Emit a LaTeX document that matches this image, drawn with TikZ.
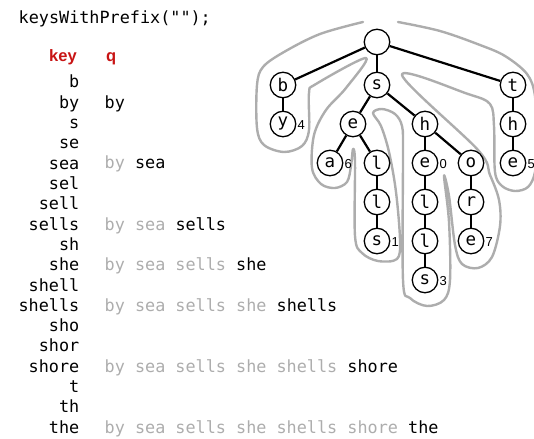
\documentclass[tikz,border=0pt]{standalone}
\usepackage{fontspec}
\setmonofont{DejaVu Sans Mono}
\setsansfont{Liberation Sans}
\definecolor{hdred}{RGB}{200,20,20}
\colorlet{faded}{black!32}

\tikzset{
  tnode/.style={circle,draw,fill=white,line width=1.3pt,minimum size=25.5pt,inner sep=0pt,
    font=\fontsize{17.5}{17.5}\selectfont\ttfamily},
  val/.style={label={[font=\fontsize{13}{13}\selectfont\sffamily,inner sep=1pt,yshift=-1.5pt]east:#1}},
  link/.style={line width=2.2pt},
  tour/.style={draw=faded,line width=2.4pt,line cap=round,line join=round},
  mono/.style={inner sep=0pt,font=\fontsize{16.8}{20}\selectfont\ttfamily},
  hd/.style={inner sep=0pt,anchor=base west,text=hdred,font=\fontsize{16.5}{20}\selectfont\sffamily\bfseries},
}

\begin{document}
\begin{tikzpicture}[x=1pt,y=-1pt]
\useasboundingbox (0,0) rectangle (534,438);

% call and table header
\node[mono,anchor=base west] (call) at (18.5,24) {keysWithPrefix("");};
\node[hd] (hkey) at (49,62) {key};
\node[hd] (hq) at (106,62) {q};

% keys visited, one per row
\foreach \k [count=\i] in {b,by,s,se,sea,sel,sell,sells,sh,she,shell,shells,sho,shor,shore,t,th,the}
  \node[mono,anchor=base east] (key\i) at (79.5,{88+(\i-1)*20.3}) {\k};

% queue contents after each key is added
\node[mono,anchor=base west] (q2) at (104.5,108.3) {by};
\node[mono,anchor=base west] (q5) at (104.5,168.9) {\textcolor{faded}{by} sea};
\node[mono,anchor=base west] (q8) at (104.5,230.1) {\textcolor{faded}{by sea} sells};
\node[mono,anchor=base west] (q10) at (104.5,270.7) {\textcolor{faded}{by sea sells} she};
\node[mono,anchor=base west] (q12) at (104.5,311.3) {\textcolor{faded}{by sea sells she} shells};
\node[mono,anchor=base west] (q15) at (104.5,372.2) {\textcolor{faded}{by sea sells she shells} shore};
\node[mono,anchor=base west] (q18) at (104.5,433.1) {\textcolor{faded}{by sea sells she shells shore} the};

% traversal order around the trie
\draw[tour] plot[smooth,tension=0.55] coordinates {
  (363,22) (320,34) (284,52) (263,67) (257,85) (257,128) (264,145) (284,152)
  (302,146) (309,130) (309,93) (316,84) (366,58)
  (346,88) (326,110) (314,135) (312,168) (321,184) (335,188) (347,182) (351,166) (353,149)
  (355,162) (355,236) (362,253) (378,261) (397,259) (400,240) (396,192) (389,152) (381,126)
  (373,113) (382,109) (395,114) (402,126)
  (403,150) (403,280) (410,298) (427,306) (444,300) (450,280) (449,222) (444,176)
  (449,196) (455,245) (462,264) (478,268) (492,257) (500,226) (499,200) (490,175) (478,150)
  (402,75)
  (468,94) (490,104) (494,126) (495,172) (502,186) (515,191) (528,187) (535,172)
  (537,140) (535,96) (527,74) (505,56) (480,45) (440,31) (398,22)
};

% trie nodes
\node[tnode] (root) at (377,42) {};
\node[tnode] (b) at (283,85) {b};
\node[tnode,val=4] (by) at (283,124) {y};
\node[tnode] (s) at (377,85) {s};
\node[tnode] (se) at (353,124) {e};
\node[tnode,val=6] (sea) at (330,163) {a};
\node[tnode] (sel) at (377,163) {l};
\node[tnode] (sell) at (377,202) {l};
\node[tnode,val=1] (sells) at (377,241) {s};
\node[tnode] (sh) at (425,124) {h};
\node[tnode,val=0] (she) at (425,163) {e};
\node[tnode] (shel) at (425,202) {l};
\node[tnode] (shell) at (425,241) {l};
\node[tnode,val=3] (shells) at (425,280) {s};
\node[tnode] (sho) at (471,163) {o};
\node[tnode] (shor) at (471,202) {r};
\node[tnode,val=7] (shore) at (471,241) {e};
\node[tnode] (t) at (513,85) {t};
\node[tnode] (th) at (513,124) {h};
\node[tnode,val=5] (the) at (513,163) {e};

% links
\draw[link] (root) -- (b);
\draw[link] (root) -- (s);
\draw[link] (root) -- (t);
\draw[link] (b) -- (by);
\draw[link] (s) -- (se);
\draw[link] (s) -- (sh);
\draw[link] (se) -- (sea);
\draw[link] (se) -- (sel);
\draw[link] (sel) -- (sell);
\draw[link] (sell) -- (sells);
\draw[link] (sh) -- (she);
\draw[link] (sh) -- (sho);
\draw[link] (she) -- (shel);
\draw[link] (shel) -- (shell);
\draw[link] (shell) -- (shells);
\draw[link] (sho) -- (shor);
\draw[link] (shor) -- (shore);
\draw[link] (t) -- (th);
\draw[link] (th) -- (the);
\end{tikzpicture}
\end{document}
